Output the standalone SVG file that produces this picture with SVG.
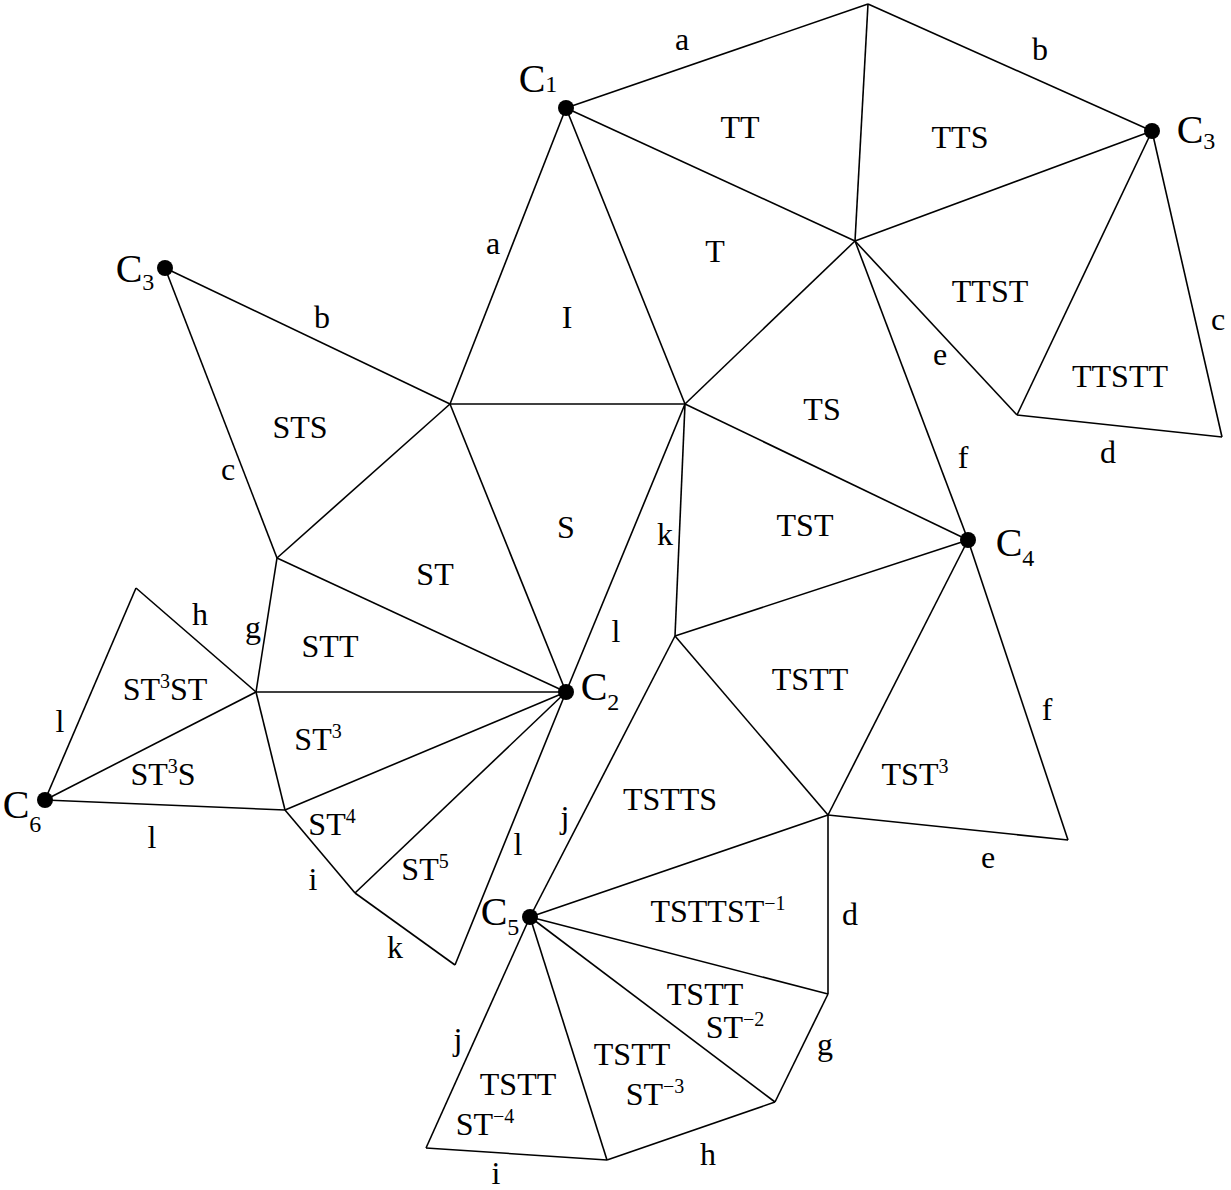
<svg xmlns="http://www.w3.org/2000/svg" width="1231" height="1190" viewBox="0 0 1231 1190">
<style>
line{stroke:#000;stroke-width:1.6}
text{font-family:"Liberation Serif",serif;font-size:32px;text-anchor:middle;fill:#000}
.s{font-size:20px}
.c{font-size:40px}
.cs{font-size:24px}
</style>
<rect width="1231" height="1190" fill="#fff"/>
<g id="edges">
<line x1="566" y1="108" x2="868" y2="4"/><line x1="868" y1="4" x2="1152" y2="131"/>
<line x1="566" y1="108" x2="855" y2="241"/><line x1="855" y1="241" x2="1152" y2="131"/>
<line x1="868" y1="4" x2="855" y2="241"/><line x1="1152" y1="131" x2="1017" y2="415"/>
<line x1="1152" y1="131" x2="1222" y2="437"/><line x1="1017" y1="415" x2="1222" y2="437"/>
<line x1="855" y1="241" x2="1017" y2="415"/>
<line x1="566" y1="108" x2="450" y2="404"/><line x1="566" y1="108" x2="685" y2="404"/>
<line x1="450" y1="404" x2="685" y2="404"/><line x1="685" y1="404" x2="855" y2="241"/>
<line x1="855" y1="241" x2="968" y2="540"/><line x1="685" y1="404" x2="968" y2="540"/>
<line x1="685" y1="404" x2="675" y2="636"/><line x1="675" y1="636" x2="968" y2="540"/>
<line x1="675" y1="636" x2="828" y2="815"/><line x1="968" y1="540" x2="828" y2="815"/>
<line x1="968" y1="540" x2="1068" y2="840"/><line x1="828" y1="815" x2="1068" y2="840"/>
<line x1="165" y1="268" x2="450" y2="404"/><line x1="165" y1="268" x2="277" y2="558"/>
<line x1="277" y1="558" x2="450" y2="404"/><line x1="277" y1="558" x2="566" y2="692"/>
<line x1="450" y1="404" x2="566" y2="692"/><line x1="566" y1="692" x2="685" y2="404"/>
<line x1="277" y1="558" x2="256" y2="692"/><line x1="256" y1="692" x2="566" y2="692"/>
<line x1="256" y1="692" x2="136" y2="588"/><line x1="136" y1="588" x2="45" y2="800"/>
<line x1="45" y1="800" x2="256" y2="692"/><line x1="45" y1="800" x2="285" y2="810"/>
<line x1="256" y1="692" x2="285" y2="810"/><line x1="285" y1="810" x2="566" y2="692"/>
<line x1="285" y1="810" x2="355" y2="893"/><line x1="355" y1="893" x2="566" y2="692"/>
<line x1="355" y1="893" x2="455" y2="965"/><line x1="455" y1="965" x2="566" y2="692"/>
<line x1="675" y1="636" x2="530" y2="917"/><line x1="530" y1="917" x2="828" y2="815"/>
<line x1="828" y1="815" x2="828" y2="994"/><line x1="530" y1="917" x2="828" y2="994"/>
<line x1="828" y1="994" x2="775" y2="1102"/><line x1="530" y1="917" x2="775" y2="1102"/>
<line x1="775" y1="1102" x2="607" y2="1160"/><line x1="530" y1="917" x2="607" y2="1160"/>
<line x1="607" y1="1160" x2="426" y2="1148"/><line x1="530" y1="917" x2="426" y2="1148"/>
</g>
<g id="points">
<circle cx="566" cy="108" r="8"/><circle cx="1152" cy="131" r="8"/><circle cx="165" cy="268" r="8"/>
<circle cx="968" cy="540" r="8"/><circle cx="566" cy="692" r="8"/><circle cx="45" cy="800" r="8"/>
<circle cx="530" cy="917" r="8"/>
</g>
<g id="labels">
<text class="c" x="538" y="92">C<tspan class="cs">1</tspan></text>
<text class="c" x="1196" y="143">C<tspan class="cs" dy="6">3</tspan></text>
<text class="c" x="135" y="282">C<tspan class="cs" dy="8">3</tspan></text>
<text class="c" x="1015" y="556">C<tspan class="cs" dy="10">4</tspan></text>
<text class="c" x="600" y="700">C<tspan class="cs" dy="10">2</tspan></text>
<text class="c" x="22" y="818">C<tspan class="cs" dy="14">6</tspan></text>
<text class="c" x="500" y="925">C<tspan class="cs" dy="10">5</tspan></text>
<text x="682" y="50">a</text><text x="1040" y="60">b</text>
<text x="740" y="138">TT</text><text x="960" y="148">TTS</text>
<text x="715" y="262">T</text><text x="567" y="328">I</text>
<text x="990" y="302">TTST</text><text x="1120" y="387">TTSTT</text>
<text x="1218" y="330">c</text><text x="940" y="365">e</text><text x="1108" y="463">d</text>
<text x="822" y="420">TS</text><text x="963" y="468">f</text>
<text x="322" y="328">b</text><text x="493" y="254">a</text>
<text x="300" y="438">STS</text><text x="228" y="480">c</text>
<text x="566" y="538">S</text><text x="665" y="545">k</text><text x="805" y="536">TST</text>
<text x="435" y="585">ST</text><text x="330" y="657">STT</text>
<text x="200" y="625">h</text><text x="253" y="638">g</text><text x="616" y="642">l</text>
<text x="165" y="700">ST<tspan class="s" dy="-12">3</tspan><tspan dy="12">ST</tspan></text>
<text x="810" y="690">TSTT</text><text x="1047" y="720">f</text><text x="60" y="732">l</text>
<text x="318" y="750">ST<tspan class="s" dy="-12">3</tspan></text>
<text x="163" y="785">ST<tspan class="s" dy="-12">3</tspan><tspan dy="12">S</tspan></text>
<text x="915" y="785">TST<tspan class="s" dy="-12">3</tspan></text>
<text x="670" y="810">TSTTS</text><text x="152" y="848">l</text>
<text x="332" y="835">ST<tspan class="s" dy="-12">4</tspan></text>
<text x="425" y="880">ST<tspan class="s" dy="-12">5</tspan></text>
<text x="313" y="890">i</text><text x="565" y="828">j</text><text x="518" y="855">l</text>
<text x="988" y="868">e</text>
<text x="718" y="922">TSTTST<tspan class="s" dy="-12">−1</tspan></text>
<text x="850" y="925">d</text><text x="395" y="958">k</text>
<text x="705" y="1005">TSTT</text><text x="735" y="1038">ST<tspan class="s" dy="-12">−2</tspan></text>
<text x="825" y="1055">g</text><text x="458" y="1050">j</text>
<text x="632" y="1065">TSTT</text><text x="655" y="1105">ST<tspan class="s" dy="-12">−3</tspan></text>
<text x="518" y="1095">TSTT</text><text x="485" y="1135">ST<tspan class="s" dy="-12">−4</tspan></text>
<text x="708" y="1165">h</text><text x="496" y="1184">i</text>
</g>
</svg>
